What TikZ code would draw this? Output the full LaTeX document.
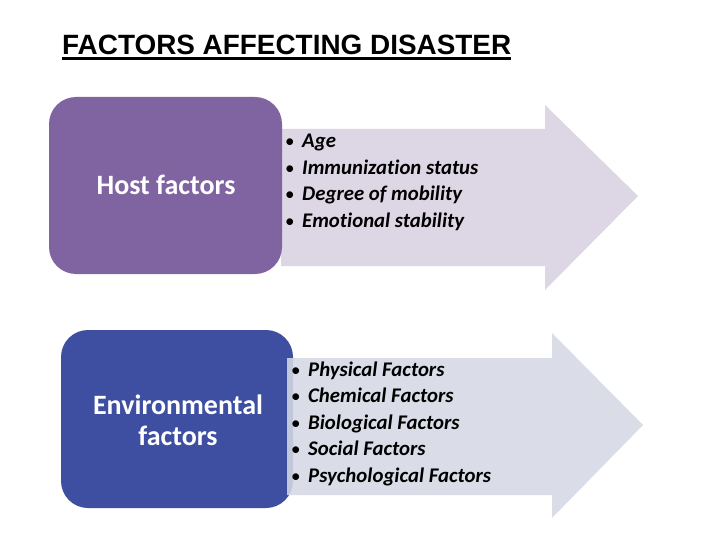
\documentclass[tikz,border=0pt]{standalone}
\usepackage{fontspec}
\setmainfont{Carlito}[Ligatures=NoCommon]
\newfontfamily\titlefont{Liberation Sans}
\definecolor{hostc}{RGB}{128,100,162}
\definecolor{envc}{RGB}{62,79,161}
\definecolor{hostarr}{RGB}{221,215,229}
\definecolor{envarr}{RGB}{213,217,228}
\tikzset{
  factorbox/.style={text=white, font=\fontsize{28}{31}\selectfont\bfseries, align=center},
  item/.style={anchor=base west, inner sep=0pt, font=\fontsize{20.8}{24}\selectfont\bfseries\itshape},
  bul/.style={anchor=base west, inner sep=0pt, font=\fontsize{19}{24}\selectfont}
}
\begin{document}
\begin{tikzpicture}[x=1pt,y=-1pt]
\useasboundingbox (0,0) rectangle (720,540);
\fill[white] (0,0) rectangle (720,540);
% title
\node[anchor=base west, inner sep=0pt, font=\titlefont\bfseries\fontsize{27.9}{32}\selectfont] (title) at (62,55) {FACTORS AFFECTING DISASTER};
\draw[line width=2.4pt] ([yshift=-3.5pt]title.base west) -- ([yshift=-3.5pt]title.base east);
% row 1
\fill[hostarr] (281,129) -- (545,129) -- (545,105) -- (638,196) -- (545,290) -- (545,266) -- (281,266) -- cycle;
\fill[hostc, rounded corners=27pt] (49,97) rectangle (282,274);
\node[factorbox] (host) at (166,185) {Host factors};
% row 2
\fill[envc, rounded corners=27pt] (61,330) rectangle (293,508);
\fill[envarr, fill opacity=0.88] (287,358) -- (552,358) -- (552,333) -- (643,425) -- (552,518) -- (552,495) -- (287,495) -- cycle;
\node[factorbox] (env) at (178,420) {Environmental\\factors};
% host items
\foreach \t [count=\i] in {Age, Immunization status, Degree of mobility, Emotional stability}{
  \node[bul] (hb\i) at (285,{148+26.4*(\i-1)}) {•};
  \node[item] (h\i) at (302,{148+26.4*(\i-1)}) {\t};
}
% env items
\foreach \t [count=\i] in {Physical Factors, Chemical Factors, Biological Factors, Social Factors, Psychological Factors}{
  \node[bul] (eb\i) at (291,{376+26.5*(\i-1)}) {•};
  \node[item] (e\i) at (308,{376+26.5*(\i-1)}) {\t};
}
\end{tikzpicture}
\end{document}
